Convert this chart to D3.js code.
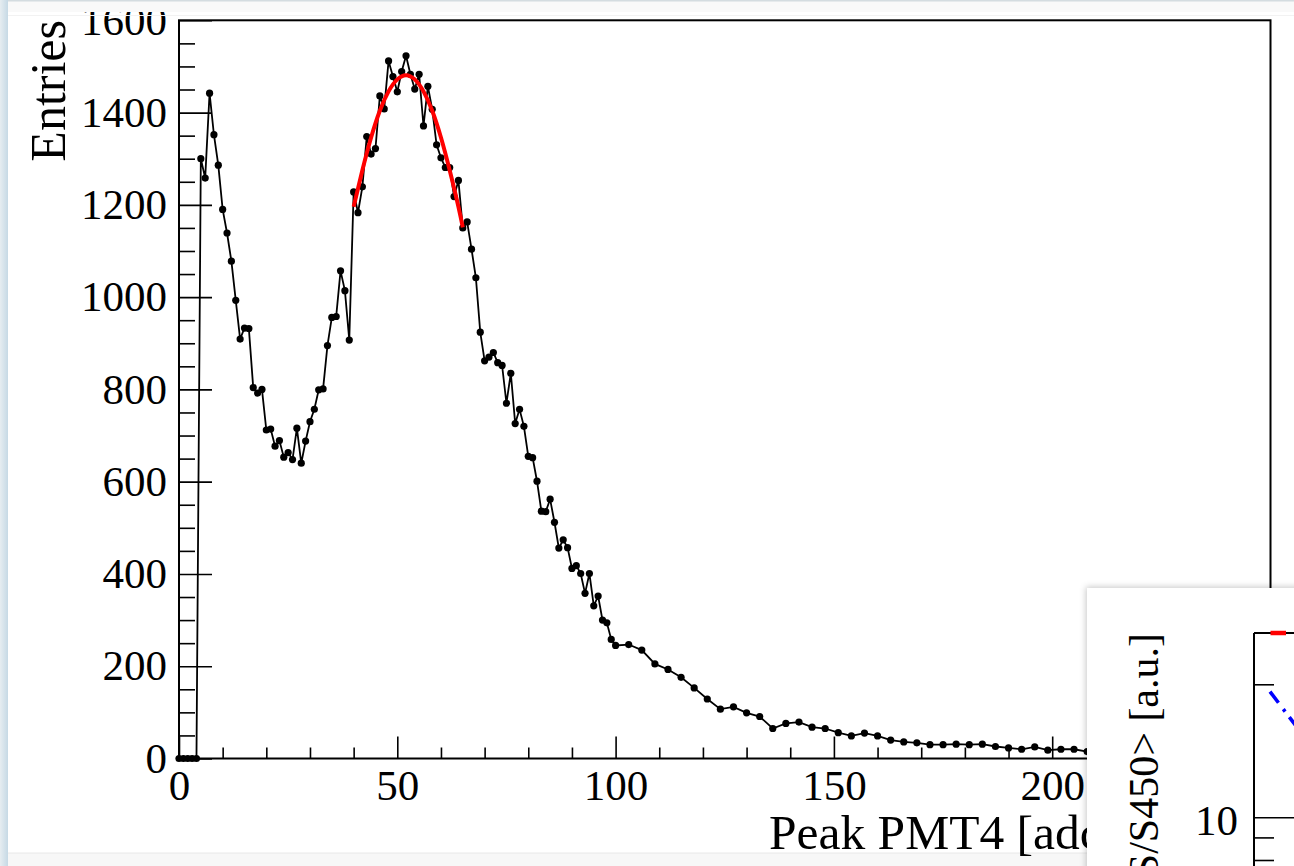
<!DOCTYPE html>
<html>
<head>
<meta charset="utf-8">
<script src="https://cdn.jsdelivr.net/npm/d3@7"></script>
<style>
  html, body { margin: 0; padding: 0; background: #fff; overflow: hidden; }
  svg { display: block; }
</style>
</head>
<body>
<div id="chart"></div>
<script>
// peak height spectrum of PMT4, points + gaussian fit on the second peak

var peakX = [0, 1, 2, 3, 4, 5, 6, 7, 8, 9, 10, 11, 12, 13, 14, 15, 16, 17, 18, 19,
  20, 21, 22, 23, 24, 25, 26, 27, 28, 29, 30, 31, 32, 33, 34, 35, 36, 37, 38, 39,
  40, 41, 42, 43, 44, 45, 46, 47, 48, 49, 50, 51, 52, 53, 54, 55, 56, 57, 58, 59,
  60, 61, 62, 63, 64, 65, 66, 67, 68, 69, 70, 71, 72, 73, 74, 75, 76, 77, 78, 79,
  80, 81, 82, 83, 84, 85, 86, 87, 88, 89, 90, 91, 92, 93, 94, 95, 96, 97, 98, 99,
  100, 103, 106, 109, 112, 115, 118, 121, 124, 127, 130, 133, 136, 139, 142, 145,
  148, 151, 154, 157, 160, 163, 166, 169, 172, 175, 178, 181, 184, 187, 190, 193,
  196, 199, 202, 205, 208, 211];

var entries = [0, 0, 0, 0, 0, 1300, 1258, 1442, 1352, 1286, 1190, 1139, 1078, 993, 909, 933, 932, 804, 792, 800,
  712, 714, 677, 689, 653, 663, 648, 716, 640, 688, 730, 757, 799, 801, 895, 956, 958, 1057, 1014, 907,
  1228, 1183, 1239, 1348, 1310, 1322, 1436, 1408, 1512, 1478, 1445, 1489, 1523, 1483, 1451, 1483, 1371, 1457, 1407, 1330,
  1302, 1281, 1281, 1218, 1253, 1150, 1163, 1104, 1042, 924, 862, 870, 880, 858, 852, 770, 835, 726, 757, 720,
  655, 652, 601, 536, 535, 562, 512, 456, 474, 457, 412, 418, 401, 358, 401, 331, 352, 300, 294, 258,
  245, 247, 235, 205, 193, 176, 153, 129, 107, 112, 99, 91, 65, 76, 79, 68,
  65, 56, 49, 55, 49, 40, 36, 34, 30, 30, 31, 30, 31, 26, 23, 20,
  25, 18, 20, 20, 15, 15];

// gaussian fit
var fitX = [40, 42, 44, 46, 48, 50, 52, 54, 56, 58, 60, 62, 64, 65];
var fitY = [1196, 1275, 1346, 1404, 1446, 1472, 1481, 1472, 1446, 1404, 1346, 1275, 1196, 1151];

var xMajor = [0, 50, 100, 150, 200, 250];
var yMajor = [0, 200, 400, 600, 800, 1000, 1200, 1400, 1600];

// second canvas window lying on top (only its corner is visible)
var insetTicks = [8, 9, 10, 20];
var insetLabels = [10];
var redX = [0.33, 0.64];
var redY = [26.2, 26.2];
var blueX = [0.32, 0.92];
var blueY = [19.3, 15.7];

var W = 1294, H = 866;
var FONT = '"Liberation Serif", "Times New Roman", serif';

var svg = d3.select('#chart').append('svg')
  .attr('width', W)
  .attr('height', H);

var defs = svg.append('defs');
var grad = defs.append('linearGradient').attr('id', 'strip');
grad.append('stop').attr('offset', '0%').attr('stop-color', '#e6edf1');
grad.append('stop').attr('offset', '100%').attr('stop-color', '#c6d9e5');
var shadow = defs.append('filter').attr('id', 'shadow')
  .attr('x', '-10%').attr('y', '-10%').attr('width', '130%').attr('height', '130%');
shadow.append('feDropShadow')
  .attr('dx', -1).attr('dy', -1)
  .attr('stdDeviation', 3)
  .attr('flood-color', '#000')
  .attr('flood-opacity', 0.22);

// bottom status band
svg.append('rect').attr('x', 0).attr('y', 853).attr('width', W).attr('height', H - 853).attr('fill', '#f7f7f7');
svg.append('line').attr('x1', 0).attr('x2', W).attr('y1', 853).attr('y2', 853).attr('stroke', '#e8e8e8');

var x = d3.scaleLinear().domain([0, 250]).range([179, 1270.5]);
var y = d3.scaleLinear().domain([0, 1600]).range([758.5, 20.3]);

var g = svg.append('g');

// frame
g.append('rect')
  .attr('x', x(0)).attr('y', y(1600))
  .attr('width', x(250) - x(0)).attr('height', y(0) - y(1600))
  .attr('fill', 'none').attr('stroke', '#000').attr('stroke-width', 2);

// y axis, ticks pointing inward
var yMinor = d3.range(0, 1601, 50).filter(function(v) { return v % 200 !== 0; });
g.append('g').attr('transform', 'translate(' + x(0) + ',0)')
  .call(d3.axisLeft(y).tickValues(yMinor).tickSize(-16).tickFormat(''));
g.append('g').attr('transform', 'translate(' + x(0) + ',0)')
  .call(d3.axisLeft(y).tickValues(yMajor).tickSize(-33).tickPadding(12).tickFormat(d3.format('d')));

// x axis
var xMinor = d3.range(0, 251, 10).filter(function(v) { return v % 50 !== 0; });
g.append('g').attr('transform', 'translate(0,' + y(0) + ')')
  .call(d3.axisBottom(x).tickValues(xMinor).tickSize(-11).tickFormat(''));
g.append('g').attr('transform', 'translate(0,' + y(0) + ')')
  .call(d3.axisBottom(x).tickValues(xMajor).tickSize(-22).tickPadding(11).tickFormat(d3.format('d')));

g.selectAll('.domain').remove();
g.selectAll('.tick line').attr('stroke', '#000').attr('stroke-width', 1.6);
g.selectAll('.tick text')
  .attr('fill', '#000')
  .style('font-family', FONT)
  .style('font-size', '43px');

// data points
var pts = peakX.map(function(v, i) { return [v, entries[i]]; });
var line = d3.line()
  .x(function(d) { return x(d[0]); })
  .y(function(d) { return y(d[1]); });

g.append('path')
  .datum(pts)
  .attr('d', line)
  .attr('fill', 'none')
  .attr('stroke', '#000')
  .attr('stroke-width', 1.8);

g.append('g').selectAll('circle')
  .data(pts)
  .enter()
  .append('circle')
  .attr('cx', function(d) { return x(d[0]); })
  .attr('cy', function(d) { return y(d[1]); })
  .attr('r', 3.6)
  .attr('fill', '#000');

// fit
var fitPts = fitX.map(function(v, i) { return [v, fitY[i]]; });
g.append('path')
  .datum(fitPts)
  .attr('d', line.curve(d3.curveNatural))
  .attr('fill', 'none')
  .attr('stroke', '#ff0000')
  .attr('stroke-width', 4);

// titles
g.append('text')
  .attr('transform', 'translate(65,20) rotate(-90)')
  .attr('text-anchor', 'end')
  .style('font-family', FONT)
  .style('font-size', '50px')
  .text('Entries');

g.append('text')
  .attr('x', 769)
  .attr('y', 849)
  .style('font-family', FONT)
  .style('font-size', '49.5px')
  .text('Peak PMT4 [adc]');

// window chrome: top band and left strip
svg.append('rect').attr('x', 0).attr('y', 0).attr('width', W).attr('height', 12).attr('fill', '#f9f9f9');
svg.append('rect').attr('x', 0).attr('y', 0).attr('width', W).attr('height', 1.5).attr('fill', '#d4dce0');
svg.append('line').attr('x1', 0).attr('x2', W).attr('y1', 15.5).attr('y2', 15.5).attr('stroke', '#f2f2f2');
svg.append('rect').attr('x', 0).attr('y', 0).attr('width', 8).attr('height', H).attr('fill', 'url(#strip)');

// overlapping window
var win = svg.append('g');
win.append('rect')
  .attr('x', 1087).attr('y', 588)
  .attr('width', 260).attr('height', 320)
  .attr('fill', '#fff')
  .attr('filter', 'url(#shadow)');

var ix = d3.scaleLinear().domain([0, 10]).range([1254, 1754]);
var iy = d3.scaleLog().domain([10, 26.2]).range([817.7, 633]);

win.append('line')
  .attr('x1', ix(0)).attr('x2', ix(0))
  .attr('y1', iy(26.2)).attr('y2', H + 10)
  .attr('stroke', '#000').attr('stroke-width', 2);
win.append('line')
  .attr('x1', ix(0)).attr('x2', W + 10)
  .attr('y1', iy(26.2)).attr('y2', iy(26.2))
  .attr('stroke', '#000').attr('stroke-width', 2);

win.append('g').selectAll('line')
  .data(insetTicks)
  .enter()
  .append('line')
  .attr('x1', ix(0))
  .attr('x2', function(d) { return insetLabels.indexOf(d) >= 0 ? ix(0) + 42 : ix(0) + 20; })
  .attr('y1', function(d) { return iy(d); })
  .attr('y2', function(d) { return iy(d); })
  .attr('stroke', '#000').attr('stroke-width', 1.6);

win.append('g').selectAll('text')
  .data(insetLabels)
  .enter()
  .append('text')
  .attr('x', 1238)
  .attr('y', function(d) { return iy(d); })
  .attr('dy', '0.4em')
  .attr('text-anchor', 'end')
  .style('font-family', FONT)
  .style('font-size', '43px')
  .text(function(d) { return d; });

var inLine = d3.line()
  .x(function(d) { return ix(d[0]); })
  .y(function(d) { return iy(d[1]); });

win.append('path')
  .datum(redX.map(function(v, i) { return [v, redY[i]]; }))
  .attr('d', inLine)
  .attr('stroke', '#ff0000').attr('stroke-width', 4.5).attr('fill', 'none');

win.append('path')
  .datum(blueX.map(function(v, i) { return [v, blueY[i]]; }))
  .attr('d', inLine)
  .attr('stroke', '#0000ff').attr('stroke-width', 3.6).attr('fill', 'none')
  .attr('stroke-dasharray', '14,8,3,7');

win.append('text')
  .attr('transform', 'translate(1158,633) rotate(-90)')
  .attr('text-anchor', 'end')
  .style('font-family', FONT)
  .style('font-size', '42px')
  .text('<S/S450> [a.u.]');
</script>
</body>
</html>
